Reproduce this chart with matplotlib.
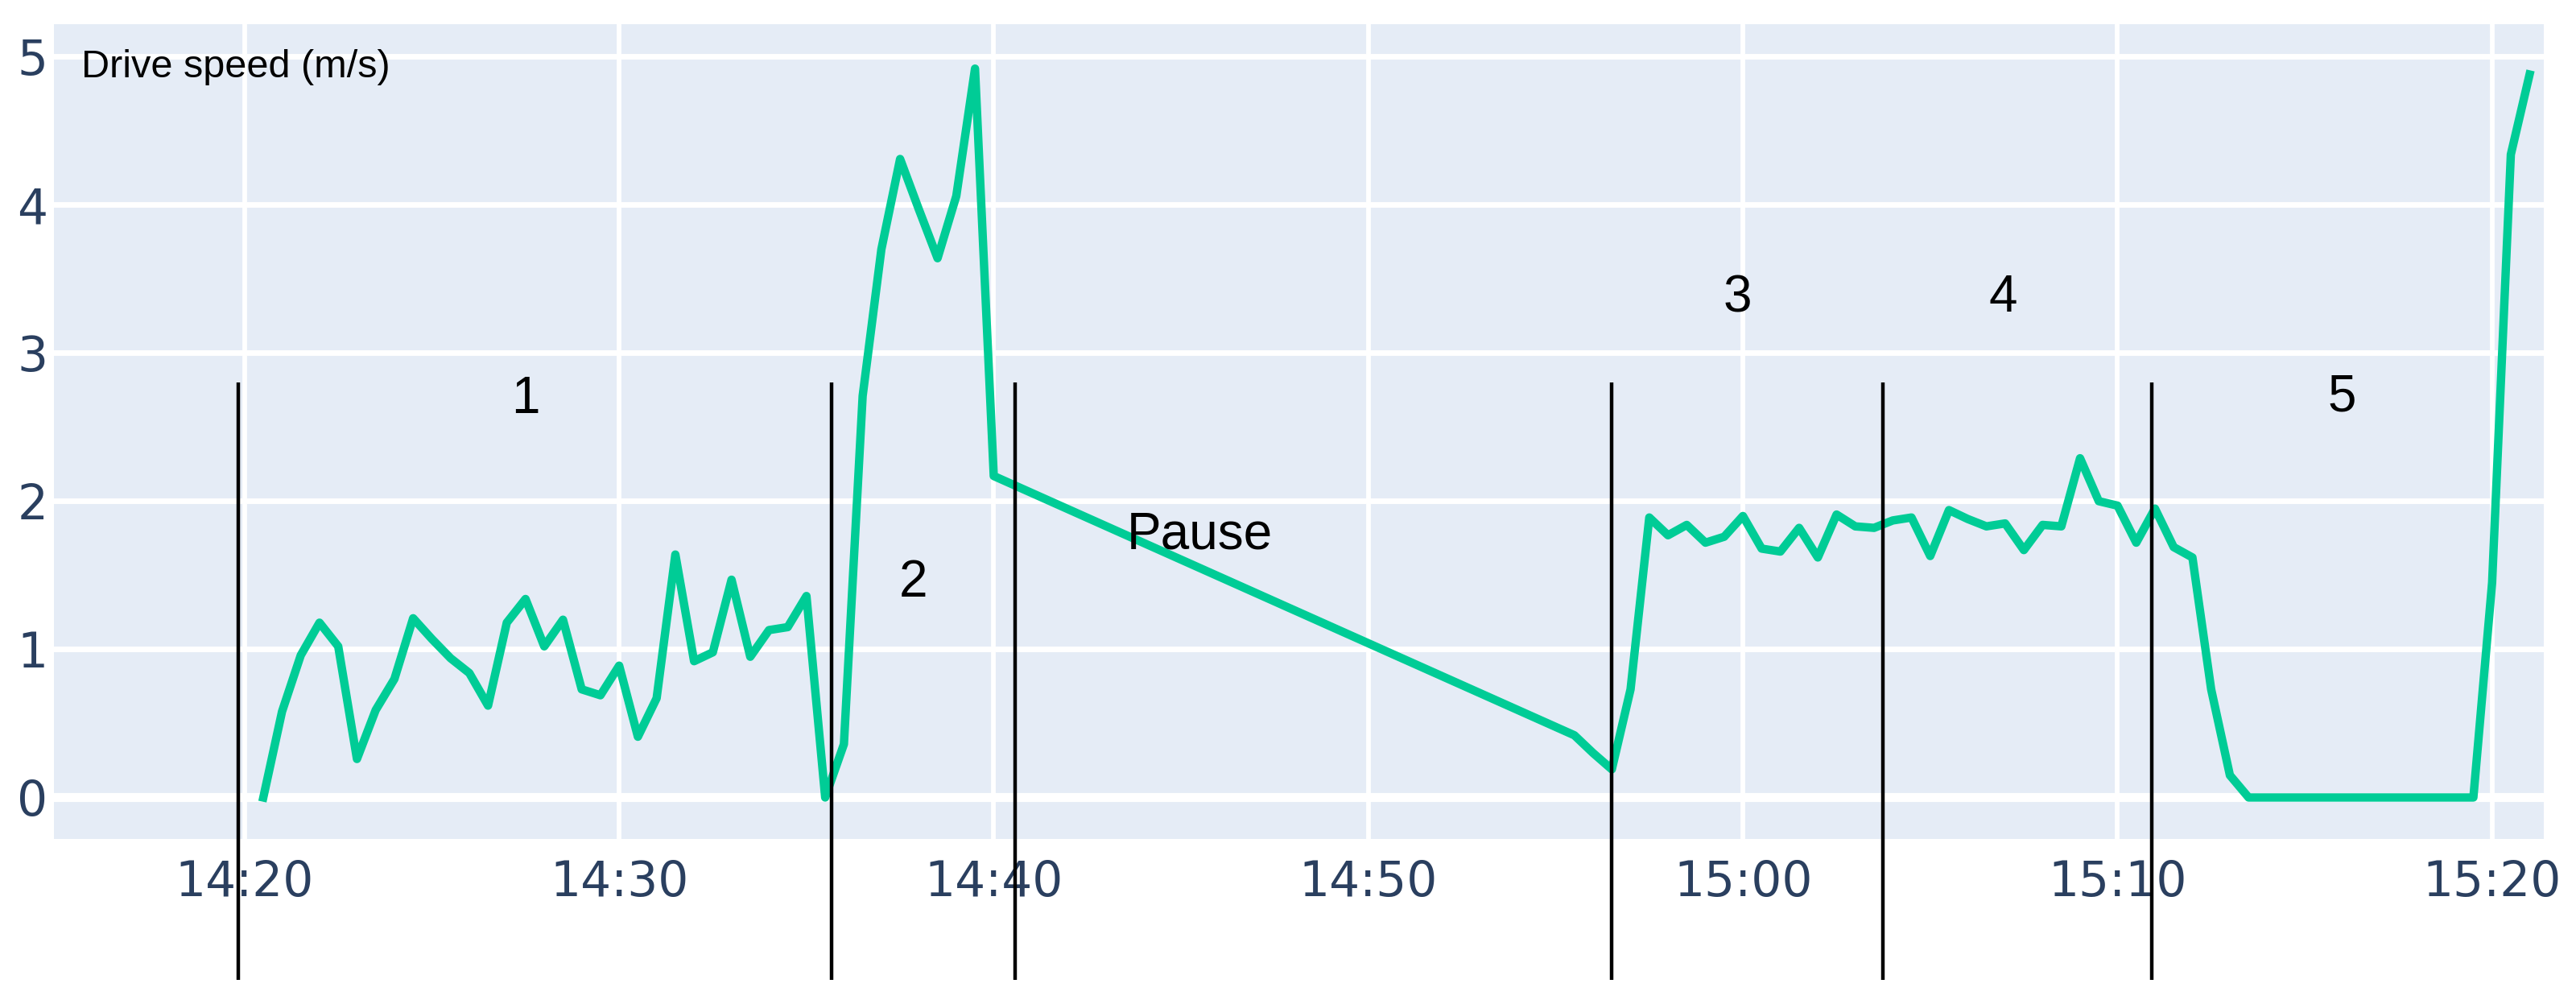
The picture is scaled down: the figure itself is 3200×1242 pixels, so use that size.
import matplotlib
matplotlib.use("Agg")
import matplotlib.pyplot as plt
import matplotlib.dates as mdates
import pandas as pd

# minutes after 14:20 and drive speed (m/s)
minutes = [0.5, 1, 1.5, 2, 2.5, 3, 3.5, 4, 4.5, 5, 5.5, 6, 6.5, 7, 7.5, 8,
           8.5, 9, 9.5, 10, 10.5, 11, 11.5, 12, 12.5, 13, 13.5, 14, 14.5, 15, 15.5,
           16, 16.5, 17, 17.5, 18, 18.5, 19, 19.5, 20,
           35.5, 36, 36.5, 37, 37.5, 38, 38.5, 39, 39.5, 40, 40.5, 41, 41.5, 42,
           42.5, 43, 43.5, 44, 44.5, 45, 45.5, 46, 46.5, 47, 47.5, 48, 48.5, 49,
           49.5, 50, 50.5, 51, 51.5, 52, 52.5, 53, 53.5, 54, 54.5, 55, 55.5, 56,
           56.5, 57, 57.5, 58, 58.5, 59, 59.5, 60, 60.5, 61]
speed = [0.0, 0.58, 0.96, 1.18, 1.02, 0.26, 0.59, 0.80, 1.21, 1.07, 0.94, 0.84,
         0.62, 1.18, 1.34, 1.02, 1.20, 0.73, 0.69, 0.89, 0.41, 0.67, 1.64, 0.92,
         0.98, 1.47, 0.95, 1.13, 1.15, 1.36, 0.0,
         0.36, 2.71, 3.70, 4.31, 3.97, 3.64, 4.06, 4.92, 2.17,
         0.42, 0.30, 0.19, 0.73, 1.89, 1.77, 1.84, 1.72, 1.76, 1.90, 1.68, 1.66,
         1.82, 1.62, 1.91, 1.83, 1.82, 1.87, 1.89, 1.63, 1.94, 1.88, 1.83, 1.85,
         1.67, 1.84, 1.83, 2.29, 2.00, 1.97, 1.72, 1.95, 1.69, 1.62, 0.73, 0.15,
         0.0, 0.0, 0.0, 0.0, 0.0, 0.0, 0.0, 0.0, 0.0, 0.0, 0.0, 0.0, 0.0,
         1.45, 4.34, 4.88]

# phase boundaries (minutes after 14:20) and phase labels
boundaries = [-0.17, 15.67, 20.57, 36.49, 43.74, 50.91]
phase_labels = ["1", "2", "Pause", "3", "4", "5"]
phase_min = [7.5, 17.86, 25.49, 39.85, 46.94, 56.0]
phase_y = [2.69, 1.45, 1.77, 3.37, 3.37, 2.70]

start = pd.Timestamp("2021-06-01 14:20")
times = start + pd.to_timedelta(minutes, unit="min")

fig = plt.figure(figsize=(32, 12.42), dpi=100)
ax = fig.add_axes([66.5 / 3200, 1 - 1042 / 1242, (3160 - 66.5) / 3200, (1042 - 30) / 1242])
ax.set_facecolor("#E5ECF6")
for s in ax.spines.values():
    s.set_visible(False)

ax.plot(times, speed, color="#00CC96", lw=7.5, zorder=3)

ax.set_xlim(start - pd.Timedelta(minutes=5.1), start + pd.Timedelta(minutes=61.38))
ax.set_ylim(-0.28, 5.22)
ax.set_yticks([0, 1, 2, 3, 4, 5])
ax.xaxis.set_major_locator(mdates.MinuteLocator(byminute=range(0, 60, 10)))
ax.xaxis.set_major_formatter(mdates.DateFormatter("%H:%M"))

ax.set_axisbelow(True)
ax.grid(axis="x", color="white", lw=4.2)
ax.grid(axis="y", color="white", lw=5)
ax.axhline(0, color="white", lw=8, zorder=1)

ax.tick_params(axis="both", length=0, labelsize=43, labelcolor="#2a3f5f")
ax.tick_params(axis="x", pad=18)
ax.tick_params(axis="y", pad=5)

bx = [start + pd.Timedelta(minutes=b) for b in boundaries]
ax.vlines(bx, -1.23, 2.8, colors="black", lw=3.2, clip_on=False, zorder=5)

for lab, m, y in zip(phase_labels, phase_min, phase_y):
    ax.text(start + pd.Timedelta(minutes=m), y, lab, fontsize=46,
            family="Liberation Sans", ha="center", va="center")

ax.text(0.0112, 0.947, "Drive speed (m/s)", transform=ax.transAxes, fontsize=35,
        family="Liberation Sans", ha="left", va="center")

fig.savefig("out.png", dpi=100)
